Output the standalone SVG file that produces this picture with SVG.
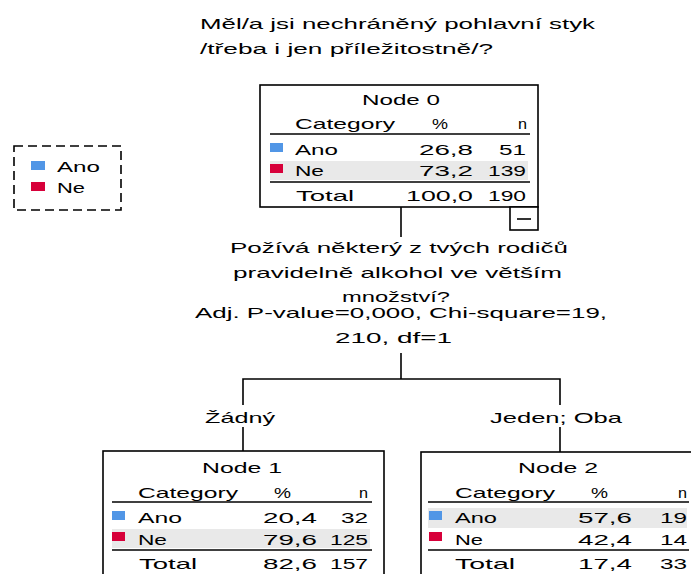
<svg xmlns="http://www.w3.org/2000/svg" width="691" height="574" viewBox="0 0 691 574">
<style>
text{font-family:"Liberation Sans",Arial,sans-serif;font-size:15px;fill:#000}
.box{fill:#fff;stroke:#000;stroke-width:1.6}
.rule{stroke:#000;stroke-width:1.6}
.band{fill:#e9e9e9}
.ano{fill:#5196e6}
.ne{fill:#d7003a}
.conn{stroke:#000;stroke-width:1.6;fill:none}
</style>
<rect width="691" height="574" fill="#fff"/>
<g id="title">
<text x="200" y="29" textLength="395" lengthAdjust="spacingAndGlyphs">Měl/a jsi nechráněný pohlavní styk</text>
<text x="200" y="54" textLength="293" lengthAdjust="spacingAndGlyphs">/třeba i jen příležitostně/?</text>
</g>
<g id="legend">
<rect x="14" y="146" width="107" height="64" fill="none" stroke="#000" stroke-width="1.6" stroke-dasharray="9,5"/>
<rect class="ano" x="31" y="161" width="14" height="9"/>
<text x="57" y="172" textLength="43" lengthAdjust="spacingAndGlyphs">Ano</text>
<rect class="ne" x="31" y="182" width="14" height="9"/>
<text x="57" y="193" textLength="28" lengthAdjust="spacingAndGlyphs">Ne</text>
</g>
<g id="connectors">
<line class="conn" x1="401" y1="207" x2="401" y2="237"/>
<line class="conn" x1="401" y1="353" x2="401" y2="379"/>
<polyline class="conn" points="243,405 243,379 560,379 560,405"/>
<line class="conn" x1="243" y1="427" x2="243" y2="451"/>
<line class="conn" x1="560" y1="427" x2="560" y2="452"/>
</g>
<g id="split">
<text x="230" y="253" textLength="338" lengthAdjust="spacingAndGlyphs">Požívá některý z tvých rodičů</text>
<text x="233" y="278" textLength="329" lengthAdjust="spacingAndGlyphs">pravidelně alkohol ve větším</text>
<text x="342" y="302" textLength="108" lengthAdjust="spacingAndGlyphs">množství?</text>
<text x="195" y="318" textLength="412" lengthAdjust="spacingAndGlyphs">Adj. P-value=0,000, Chi-square=19,</text>
<text x="335" y="343" textLength="117" lengthAdjust="spacingAndGlyphs">210, df=1</text>
<text x="205" y="423" textLength="70" lengthAdjust="spacingAndGlyphs">Žádný</text>
<text x="490" y="423" textLength="132" lengthAdjust="spacingAndGlyphs">Jeden; Oba</text>
</g>
<g id="node0">
<rect class="box" x="260" y="85" width="278" height="122"/>
<rect class="band" x="270" y="161" width="258" height="19"/>
<text x="362" y="105" textLength="78" lengthAdjust="spacingAndGlyphs">Node 0</text>
<text x="295" y="129" textLength="100" lengthAdjust="spacingAndGlyphs">Category</text>
<text x="432" y="129" textLength="16" lengthAdjust="spacingAndGlyphs">%</text>
<text x="518" y="129" textLength="9" lengthAdjust="spacingAndGlyphs">n</text>
<line class="rule" x1="270" y1="134" x2="530" y2="134"/>
<rect class="ano" x="270" y="143" width="13" height="9"/>
<text x="295" y="155" textLength="43" lengthAdjust="spacingAndGlyphs">Ano</text>
<text x="419" y="155" textLength="54" lengthAdjust="spacingAndGlyphs">26,8</text>
<text x="499" y="155" textLength="27" lengthAdjust="spacingAndGlyphs">51</text>
<rect class="ne" x="270" y="164" width="13" height="9"/>
<text x="295" y="176" textLength="29" lengthAdjust="spacingAndGlyphs">Ne</text>
<text x="419" y="176" textLength="54" lengthAdjust="spacingAndGlyphs">73,2</text>
<text x="488" y="176" textLength="38" lengthAdjust="spacingAndGlyphs">139</text>
<line class="rule" x1="270" y1="182" x2="530" y2="182"/>
<text x="296" y="201" textLength="58" lengthAdjust="spacingAndGlyphs">Total</text>
<text x="406" y="201" textLength="67" lengthAdjust="spacingAndGlyphs">100,0</text>
<text x="488" y="201" textLength="38" lengthAdjust="spacingAndGlyphs">190</text>
<rect class="box" x="510" y="207" width="28" height="23"/>
<line class="rule" x1="517" y1="219" x2="531" y2="219"/>
</g>
<g id="node1">
<rect class="box" x="103" y="451" width="281" height="140"/>
<rect class="band" x="112" y="529" width="258" height="19"/>
<text x="202" y="473" textLength="80" lengthAdjust="spacingAndGlyphs">Node 1</text>
<text x="138" y="498" textLength="100" lengthAdjust="spacingAndGlyphs">Category</text>
<text x="274" y="498" textLength="17" lengthAdjust="spacingAndGlyphs">%</text>
<text x="359" y="498" textLength="9" lengthAdjust="spacingAndGlyphs">n</text>
<line class="rule" x1="112" y1="502" x2="372" y2="502"/>
<rect class="ano" x="112" y="511" width="13" height="9"/>
<text x="138" y="523" textLength="44" lengthAdjust="spacingAndGlyphs">Ano</text>
<text x="263" y="523" textLength="54" lengthAdjust="spacingAndGlyphs">20,4</text>
<text x="341" y="523" textLength="27" lengthAdjust="spacingAndGlyphs">32</text>
<rect class="ne" x="112" y="532" width="13" height="9"/>
<text x="138" y="545" textLength="29" lengthAdjust="spacingAndGlyphs">Ne</text>
<text x="263" y="545" textLength="54" lengthAdjust="spacingAndGlyphs">79,6</text>
<text x="330" y="545" textLength="38" lengthAdjust="spacingAndGlyphs">125</text>
<line class="rule" x1="112" y1="550" x2="372" y2="550"/>
<text x="139" y="569" textLength="58" lengthAdjust="spacingAndGlyphs">Total</text>
<text x="263" y="569" textLength="54" lengthAdjust="spacingAndGlyphs">82,6</text>
<text x="330" y="569" textLength="38" lengthAdjust="spacingAndGlyphs">157</text>
</g>
<g id="node2">
<rect class="box" x="421" y="452" width="290" height="140"/>
<rect class="band" x="428" y="508" width="259" height="20"/>
<text x="518" y="473" textLength="80" lengthAdjust="spacingAndGlyphs">Node 2</text>
<text x="455" y="498" textLength="100" lengthAdjust="spacingAndGlyphs">Category</text>
<text x="591" y="498" textLength="17" lengthAdjust="spacingAndGlyphs">%</text>
<text x="678" y="498" textLength="9" lengthAdjust="spacingAndGlyphs">n</text>
<line class="rule" x1="428" y1="502" x2="689" y2="502"/>
<rect class="ano" x="429" y="511" width="13" height="9"/>
<text x="455" y="523" textLength="42" lengthAdjust="spacingAndGlyphs">Ano</text>
<text x="578" y="523" textLength="54" lengthAdjust="spacingAndGlyphs">57,6</text>
<text x="660" y="523" textLength="27" lengthAdjust="spacingAndGlyphs">19</text>
<rect class="ne" x="429" y="532" width="13" height="9"/>
<text x="455" y="545" textLength="28" lengthAdjust="spacingAndGlyphs">Ne</text>
<text x="578" y="545" textLength="54" lengthAdjust="spacingAndGlyphs">42,4</text>
<text x="660" y="545" textLength="27" lengthAdjust="spacingAndGlyphs">14</text>
<line class="rule" x1="428" y1="550" x2="689" y2="550"/>
<text x="455" y="569" textLength="60" lengthAdjust="spacingAndGlyphs">Total</text>
<text x="578" y="569" textLength="54" lengthAdjust="spacingAndGlyphs">17,4</text>
<text x="660" y="569" textLength="27" lengthAdjust="spacingAndGlyphs">33</text>
</g>
</svg>
